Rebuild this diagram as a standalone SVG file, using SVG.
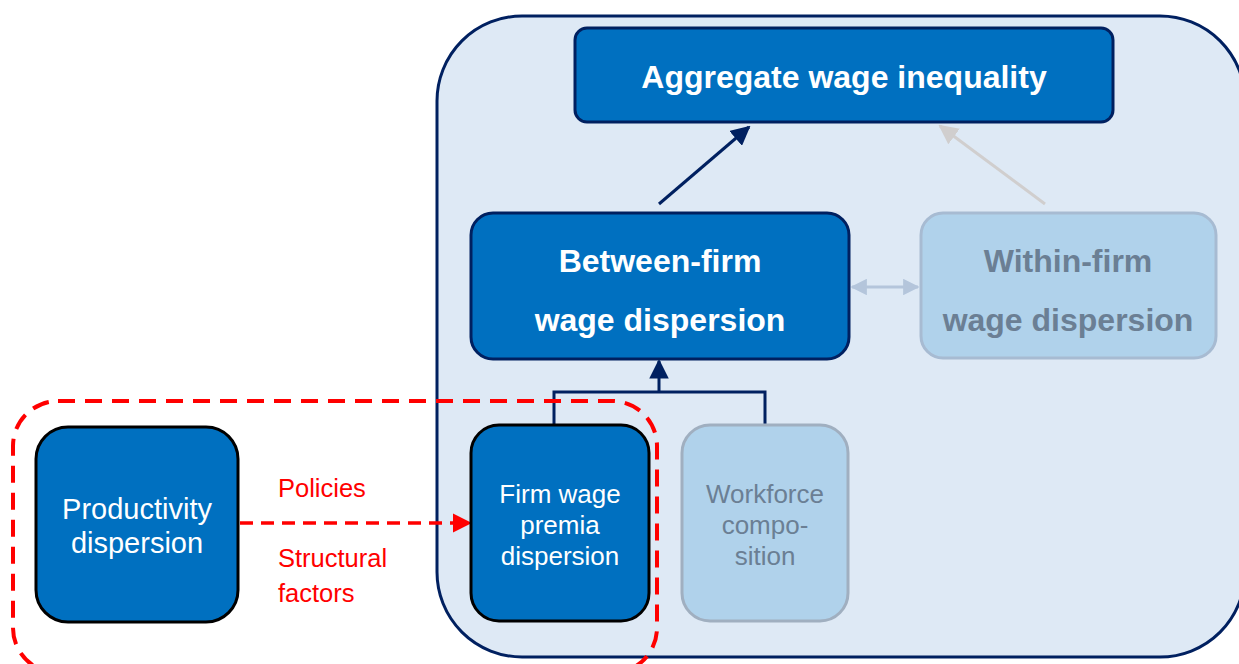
<svg xmlns="http://www.w3.org/2000/svg" width="1239" height="664" viewBox="0 0 1239 664">
<defs>
<style>
.dark{fill:#0070C0;stroke:#002060;stroke-width:3}
.blk{fill:#0070C0;stroke:#000;stroke-width:3}
.pale{fill:#B0D2EB;stroke:#A7BBD2;stroke-width:3}
.tb{font-family:"Liberation Sans",Arial,sans-serif;font-weight:bold;font-size:32px;fill:#fff;text-anchor:middle}
.tr{font-family:"Liberation Sans",Arial,sans-serif;font-size:26px;fill:#fff;text-anchor:middle}
.red{font-family:"Liberation Sans",Arial,sans-serif;font-size:25.5px;fill:#FF0000}
.gray{fill:#6B7F94}
</style>
<marker id="ahNavy" viewBox="0 0 10 10" refX="9" refY="5" markerWidth="6.5" markerHeight="6.5" orient="auto" markerUnits="strokeWidth"><path d="M0,0L10,5L0,10z" fill="#002060"/></marker>
<marker id="ahGray" viewBox="0 0 10 10" refX="9" refY="5" markerWidth="6.5" markerHeight="6.5" orient="auto" markerUnits="strokeWidth"><path d="M0,0L10,5L0,10z" fill="#D0CECE"/></marker>
<marker id="ahPale" viewBox="0 0 10 10" refX="9" refY="5" markerWidth="5.5" markerHeight="5.5" orient="auto-start-reverse" markerUnits="strokeWidth"><path d="M0,0L10,5L0,10z" fill="#B4C5DB"/></marker>
<marker id="ahRed" viewBox="0 0 10 10" refX="9" refY="5" markerWidth="5.5" markerHeight="5.5" orient="auto" markerUnits="strokeWidth"><path d="M0,0L10,5L0,10z" fill="#FF0000"/></marker>
</defs>

<g id="container">
<rect x="437" y="16" width="808" height="641" rx="85" fill="#DEE9F5" stroke="#002060" stroke-width="3"/>
</g>

<g id="connectors" fill="none">
<line x1="659" y1="204" x2="749" y2="127" stroke="#002060" stroke-width="3" marker-end="url(#ahNavy)"/>
<line x1="1045" y1="204" x2="940" y2="126" stroke="#D0CECE" stroke-width="3" marker-end="url(#ahGray)"/>
<line x1="852" y1="287" x2="918" y2="287" stroke="#B4C5DB" stroke-width="3" marker-start="url(#ahPale)" marker-end="url(#ahPale)"/>
<path d="M554,425V392H765V425" stroke="#002060" stroke-width="3"/>
<line x1="659" y1="392" x2="659" y2="361" stroke="#002060" stroke-width="3" marker-end="url(#ahNavy)"/>
<line x1="240" y1="523" x2="470" y2="523" stroke="#FF0000" stroke-width="3.5" stroke-dasharray="13,8" marker-end="url(#ahRed)"/>
</g>

<g id="aggregate">
<rect class="dark" x="575" y="28" width="538" height="94" rx="12"/>
<text class="tb" x="844" y="88">Aggregate wage inequality</text>
</g>

<g id="between">
<rect class="dark" x="471" y="213" width="378" height="146" rx="22"/>
<text class="tb" x="660" y="272">Between-firm</text>
<text class="tb" x="660" y="331">wage dispersion</text>
</g>

<g id="within">
<rect class="pale" x="921" y="213" width="295" height="145" rx="22"/>
<text class="tb gray" x="1068" y="272">Within-firm</text>
<text class="tb gray" x="1068" y="331">wage dispersion</text>
</g>

<g id="firm">
<rect class="blk" x="471" y="425" width="178" height="196" rx="28"/>
<text class="tr" x="560" y="503">Firm wage</text>
<text class="tr" x="560" y="534">premia</text>
<text class="tr" x="560" y="565">dispersion</text>
</g>

<g id="workforce">
<rect class="pale" x="682" y="425" width="166" height="196" rx="28" style="stroke:#A0AFC0"/>
<text class="tr gray" x="765" y="503">Workforce</text>
<text class="tr gray" x="765" y="534">compo-</text>
<text class="tr gray" x="765" y="565">sition</text>
</g>

<g id="productivity">
<rect class="blk" x="36" y="427" width="202" height="195" rx="32"/>
<text class="tr" x="137" y="519" style="font-size:29px">Productivity</text>
<text class="tr" x="137" y="553" style="font-size:29px">dispersion</text>
</g>

<g id="labels">
<text class="red" x="278" y="497">Policies</text>
<text class="red" x="278" y="567">Structural</text>
<text class="red" x="278" y="602">factors</text>
</g>

<g id="highlight">
<rect x="13" y="401" width="644" height="272" rx="45" fill="none" stroke="#FF0000" stroke-width="4" stroke-dasharray="17,10"/>
</g>
</svg>
